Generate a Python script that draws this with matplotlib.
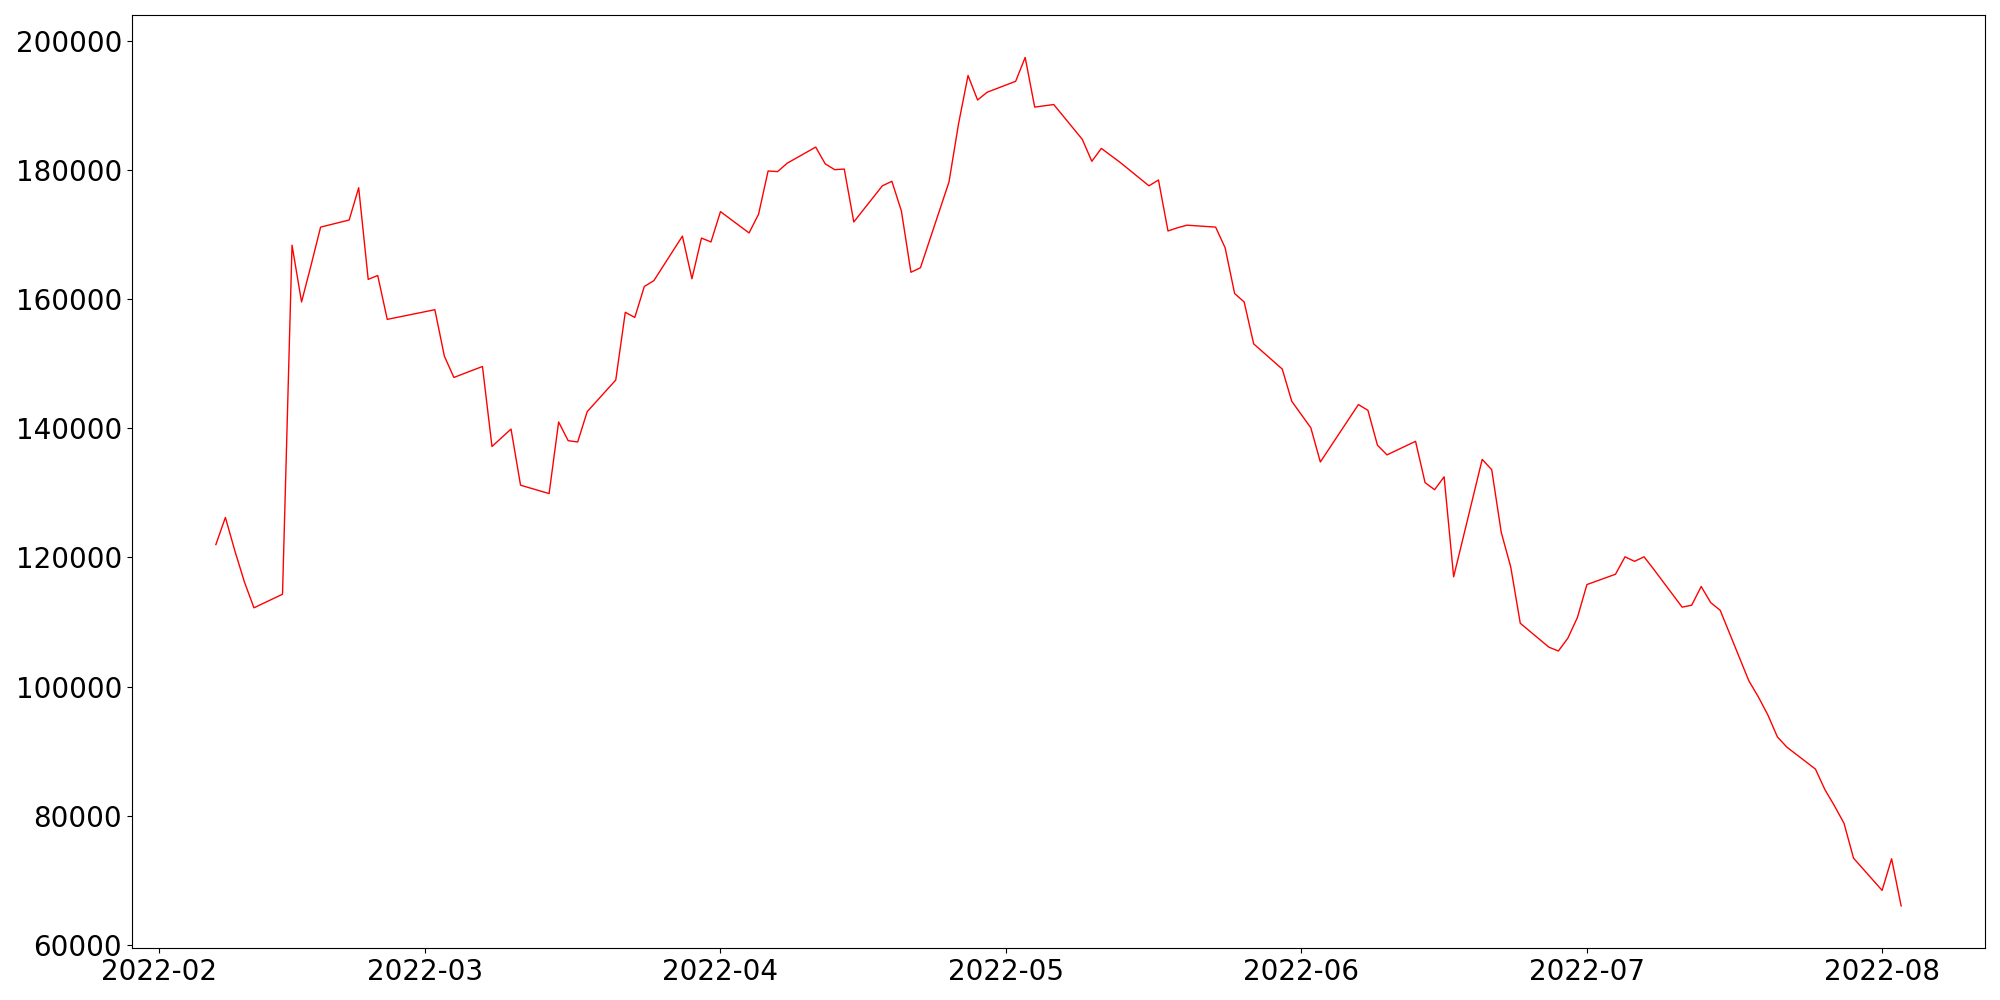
import pandas as pd
import matplotlib.pyplot as plt

# Daily values, KRX trading days (Mar 1, Mar 9, May 5, Jun 1, Jun 6 closed)
dates = pd.to_datetime([
    '2022-02-07', '2022-02-08', '2022-02-09', '2022-02-10', '2022-02-11',
    '2022-02-14', '2022-02-15', '2022-02-16', '2022-02-17', '2022-02-18',
    '2022-02-21', '2022-02-22', '2022-02-23', '2022-02-24', '2022-02-25',
    '2022-02-28', '2022-03-02', '2022-03-03', '2022-03-04',
    '2022-03-07', '2022-03-08', '2022-03-10', '2022-03-11',
    '2022-03-14', '2022-03-15', '2022-03-16', '2022-03-17', '2022-03-18',
    '2022-03-21', '2022-03-22', '2022-03-23', '2022-03-24', '2022-03-25',
    '2022-03-28', '2022-03-29', '2022-03-30', '2022-03-31', '2022-04-01',
    '2022-04-04', '2022-04-05', '2022-04-06', '2022-04-07', '2022-04-08',
    '2022-04-11', '2022-04-12', '2022-04-13', '2022-04-14', '2022-04-15',
    '2022-04-18', '2022-04-19', '2022-04-20', '2022-04-21', '2022-04-22',
    '2022-04-25', '2022-04-26', '2022-04-27', '2022-04-28', '2022-04-29',
    '2022-05-02', '2022-05-03', '2022-05-04', '2022-05-06',
    '2022-05-09', '2022-05-10', '2022-05-11', '2022-05-12', '2022-05-13',
    '2022-05-16', '2022-05-17', '2022-05-18', '2022-05-19', '2022-05-20',
    '2022-05-23', '2022-05-24', '2022-05-25', '2022-05-26', '2022-05-27',
    '2022-05-30', '2022-05-31', '2022-06-02', '2022-06-03',
    '2022-06-07', '2022-06-08', '2022-06-09', '2022-06-10',
    '2022-06-13', '2022-06-14', '2022-06-15', '2022-06-16', '2022-06-17',
    '2022-06-20', '2022-06-21', '2022-06-22', '2022-06-23', '2022-06-24',
    '2022-06-27', '2022-06-28', '2022-06-29', '2022-06-30', '2022-07-01',
    '2022-07-04', '2022-07-05', '2022-07-06', '2022-07-07', '2022-07-08',
    '2022-07-11', '2022-07-12', '2022-07-13', '2022-07-14', '2022-07-15',
    '2022-07-18', '2022-07-19', '2022-07-20', '2022-07-21', '2022-07-22',
    '2022-07-25', '2022-07-26', '2022-07-27', '2022-07-28', '2022-07-29',
    '2022-08-01', '2022-08-02', '2022-08-03',
])

values = [
    122000, 126200, 121000, 116200, 112200,
    114300, 168400, 159600, 165300, 171200,
    172300, 177300, 163100, 163700, 156900,
    157800, 158400, 151200, 147900,
    149600, 137200, 139900, 131200,
    129900, 141000, 138100, 137900, 142600,
    147500, 158000, 157200, 162000, 162900,
    169800, 163200, 169500, 168900, 173600,
    170300, 173200, 179900, 179800, 181100,
    183600, 181000, 180100, 180200, 172000,
    177600, 178300, 173700, 164200, 164900,
    178200, 187200, 194700, 190900, 192100,
    193800, 197500, 189800, 190200,
    184800, 181400, 183400, 182300, 181200,
    177600, 178500, 170600, 171100, 171500,
    171200, 168000, 160900, 159600, 153100,
    149200, 144200, 140100, 134800,
    143700, 142800, 137400, 135900,
    138000, 131600, 130500, 132500, 117000,
    135200, 133600, 123900, 118500, 109800,
    106100, 105500, 107500, 110700, 115800,
    117400, 120100, 119400, 120100, 118200,
    112300, 112600, 115500, 113000, 111800,
    100900, 98400, 95600, 92200, 90600,
    87200, 84000, 81500, 78800, 73400,
    68400, 73300, 66000,
]

fig, ax = plt.subplots(figsize=(20, 10), dpi=100)
fig.subplots_adjust(left=0.0658, right=0.9927, bottom=0.0517, top=0.985)

ax.plot(dates, values, color='red', linewidth=1)
ax.tick_params(axis='both', labelsize=20)

fig.savefig('out.png', dpi=100)
